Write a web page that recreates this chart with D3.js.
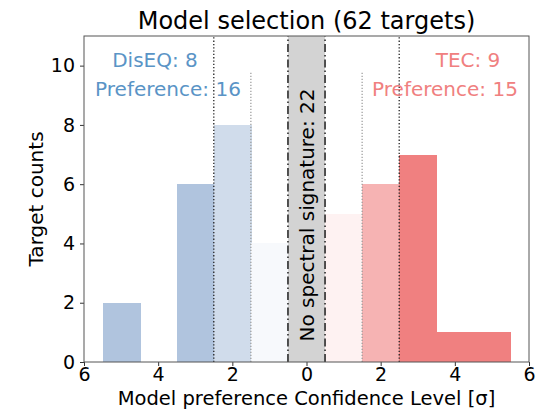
<!DOCTYPE html>
<html>
<head>
<meta charset="utf-8">
<script src="https://cdn.jsdelivr.net/npm/d3@7"></script>
<style>
  html, body { margin: 0; padding: 0; background: #fff; }
  svg { display: block; font-family: "DejaVu Sans", sans-serif; }
</style>
</head>
<body>
<svg id="chart" width="541" height="411"></svg>
<script>
// Confidence level bins (sigma, negative = DisEQ side, positive = TEC side)
const disEqBins = [-5, -4, -3, -2, -1];
const disEqCounts = [2, 0, 6, 8, 4];
const disEqAlpha = [1, 1, 1, 0.6, 0.1];

const tecBins = [1, 2, 3, 4, 5];
const tecCounts = [5, 6, 7, 1, 1];
const tecAlpha = [0.1, 0.6, 1, 1, 1];

const noSignatureCount = 22;
const disEqTotal = 8, disEqPreference = 16;
const tecTotal = 9, tecPreference = 15;
const totalTargets = 62;

const xTicks = [-6, -4, -2, 0, 2, 4, 6];
const yTicks = [0, 2, 4, 6, 8, 10];

const svg = d3.select("#chart");
const margin = { left: 84, right: 12, top: 36, bottom: 49 };
const W = 541, H = 411;

const x = d3.scaleLinear().domain([-6, 6]).range([margin.left, W - margin.right]);
const y = d3.scaleLinear().domain([0, 11]).range([H - margin.bottom, margin.top]);

const blue = d3.rgb("lightsteelblue");
const red = d3.rgb("lightcoral");
function blend(c, a) {
  return d3.rgb(255 - a * (255 - c.r), 255 - a * (255 - c.g), 255 - a * (255 - c.b));
}

const g = svg.append("g");

// Histogram bars
function drawBars(bins, counts, alphas, color) {
  g.selectAll(null)
    .data(bins.map((b, i) => ({ b, c: counts[i], a: alphas[i] })))
    .enter().append("rect")
    .attr("shape-rendering", "crispEdges")
    .attr("x", d => x(d.b - 0.5))
    .attr("width", d => x(d.b + 0.5) - x(d.b - 0.5) + 1)
    .attr("y", d => y(d.c))
    .attr("height", d => y(0) - y(d.c))
    .attr("fill", d => blend(color, d.a));
}
drawBars(disEqBins, disEqCounts, disEqAlpha, blue);
drawBars(tecBins, tecCounts, tecAlpha, red);

// No-spectral-signature band
g.append("rect")
  .attr("x", x(-0.5)).attr("width", x(0.5) - x(-0.5))
  .attr("y", y(11)).attr("height", y(0) - y(11))
  .attr("fill", "lightgray");
[-0.5, 0.5].forEach(v => {
  g.append("line")
    .attr("x1", x(v)).attr("x2", x(v))
    .attr("y1", y(0)).attr("y2", y(11))
    .attr("stroke", "#000").attr("stroke-width", 1.3)
    .attr("stroke-dasharray", "8,3,1.5,3");
});

// Sigma threshold markers
[-2.5, 2.5].forEach(v => {
  g.append("line")
    .attr("x1", x(v)).attr("x2", x(v))
    .attr("y1", y(0)).attr("y2", y(11))
    .attr("stroke", "#222").attr("stroke-width", 1.3)
    .attr("stroke-dasharray", "1.3,2");
});
[-1.5, 1.5].forEach(v => {
  g.append("line")
    .attr("x1", x(v)).attr("x2", x(v))
    .attr("y1", y(0)).attr("y2", y(9.8))
    .attr("stroke", "#999").attr("stroke-width", 1.2)
    .attr("stroke-dasharray", "1.2,1.8");
});

// Axes
const xAxis = d3.axisBottom(x).tickValues(xTicks).tickFormat(d => Math.abs(d)).tickSize(4).tickPadding(2);
const yAxis = d3.axisLeft(y).tickValues(yTicks).tickSize(4).tickPadding(5);

const gx = svg.append("g").attr("transform", `translate(0,${y(0)})`).call(xAxis);
const gy = svg.append("g").attr("transform", `translate(${x(-6)},0)`).call(yAxis);
[gx, gy].forEach(a => {
  a.select(".domain").remove();
  a.selectAll("text").attr("font-size", 19).attr("fill", "#000").attr("font-family", "DejaVu Sans");
  a.selectAll("line").attr("stroke", "#333");
});

// Frame
svg.append("rect")
  .attr("x", x(-6)).attr("y", y(11))
  .attr("width", x(6) - x(-6)).attr("height", y(0) - y(11))
  .attr("fill", "none").attr("stroke", "#555").attr("stroke-width", 1);

// Band label
const bandLabelY = 215;
svg.append("text")
  .attr("x", x(0)).attr("y", bandLabelY)
  .attr("dy", "0.35em")
  .attr("transform", `rotate(-90, ${x(0)}, ${bandLabelY})`)
  .attr("text-anchor", "middle").attr("font-size", 20).attr("fill", "#000")
  .text(`No spectral signature: ${noSignatureCount}`);

// Model counts
const blueText = "#5a94c6";
const redText = "#f08080";
svg.append("text").attr("x", 155).attr("y", 67).attr("text-anchor", "middle")
  .attr("font-size", 20).attr("fill", blueText).text(`DisEQ: ${disEqTotal}`);
svg.append("text").attr("x", 168).attr("y", 96).attr("text-anchor", "middle")
  .attr("font-size", 20).attr("fill", blueText).text(`Preference: ${disEqPreference}`);
svg.append("text").attr("x", 468).attr("y", 67).attr("text-anchor", "middle")
  .attr("font-size", 20).attr("fill", redText).text(`TEC: ${tecTotal}`);
svg.append("text").attr("x", 445).attr("y", 96).attr("text-anchor", "middle")
  .attr("font-size", 20).attr("fill", redText).text(`Preference: ${tecPreference}`);

// Title and axis labels
svg.append("text").attr("x", x(0)).attr("y", 29).attr("text-anchor", "middle")
  .attr("font-size", 24).attr("fill", "#000").text(`Model selection (${totalTargets} targets)`);
svg.append("text").attr("x", x(0)).attr("y", 405).attr("text-anchor", "middle")
  .attr("font-size", 19.5).attr("fill", "#000").text("Model preference Confidence Level [σ]");
svg.append("text")
  .attr("transform", `translate(43,${(y(0) + y(11)) / 2}) rotate(-90)`)
  .attr("text-anchor", "middle").attr("font-size", 20).attr("fill", "#000").text("Target counts");
</script>
</body>
</html>
